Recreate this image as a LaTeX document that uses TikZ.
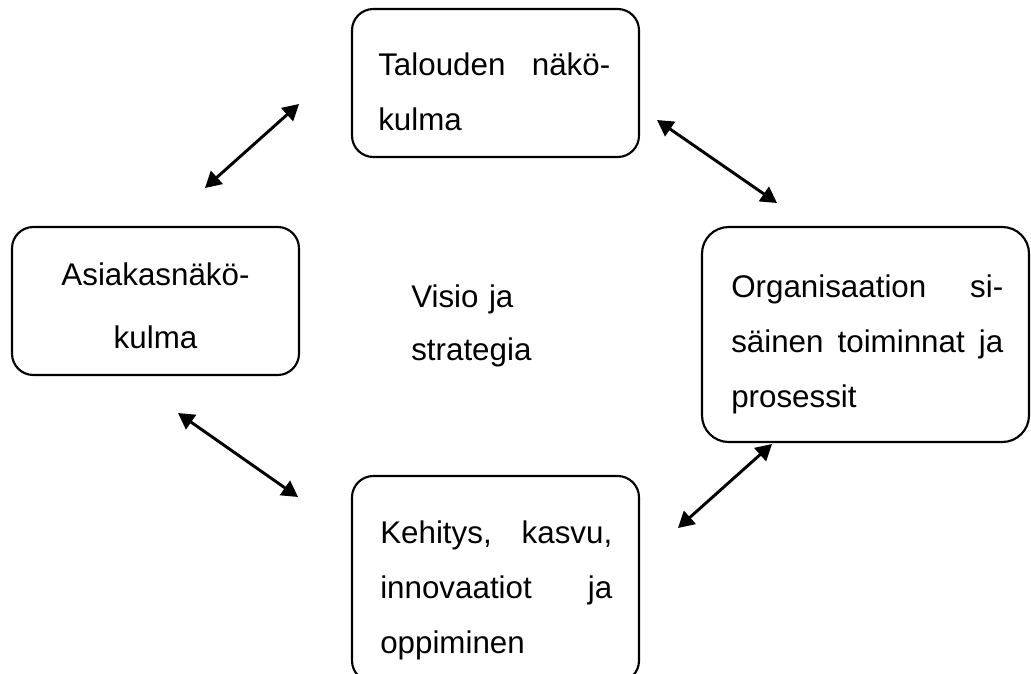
\documentclass[tikz,border=0pt]{standalone}
\usepackage{fontspec}
\setmainfont{Liberation Sans}
\usetikzlibrary{arrows.meta,fit}

\tikzset{
  box/.style={draw, line width=1.6pt, rounded corners=16pt, inner sep=0pt},
  bigbox/.style={box, rounded corners=20pt},
  txt/.style={inner sep=0pt, align=left, anchor=base west},
  biarrow/.style={line width=2.2pt, {Triangle[length=12pt,width=13pt]}-{Triangle[length=12pt,width=13pt]}}
}

\begin{document}
\begin{tikzpicture}[x=0.75pt, y=-0.75pt]
  \useasboundingbox (0,0) rectangle (1031,674);

  % perspective boxes
  \node[box, fit={(352,9) (639,157)}] (talous) {};
  \node[box, fit={(12,227) (299,375)}] (asiakas) {};
  \node[bigbox, fit={(702,227) (1029,442)}] (prosessit) {};
  \node[box, fit={(352,476) (639,682)}] (kehitys) {};

  % box texts
  \node[txt, text width=174pt, font=\fontsize{23.5}{41.25}\selectfont] (tTalous) at (378,75)
    {Talouden\hfill näkö-\\kulma};
  \node[txt, text width=180pt, align=center, anchor=base, font=\fontsize{23.5}{47.25}\selectfont] (tAsiakas) at (155.5,285)
    {Asiakasnäkö-\\kulma};
  \node[txt, text width=204pt, font=\fontsize{23.5}{41.25}\selectfont] (tProsessit) at (731,297)
    {Organisaation\hfill si-\\säinen\hfill toiminnat\hfill ja\\prosessit};
  \node[txt, text width=174pt, font=\fontsize{23.5}{41.25}\selectfont] (tKehitys) at (380,543)
    {Kehitys,\hfill kasvu,\\innovaatiot\hfill ja\\oppiminen};

  % centre text
  \node[txt, text width=150pt, font=\fontsize{23.5}{39.75}\selectfont] (visio) at (411,307)
    {Visio ja\\strategia};

  % arrow end points
  \coordinate (a1s) at (205,188);
  \coordinate (a1e) at (299,104);
  \coordinate (a2s) at (657,120);
  \coordinate (a2e) at (777,203);
  \coordinate (a3s) at (178,413);
  \coordinate (a3e) at (298,497);
  \coordinate (a4s) at (678,528);
  \coordinate (a4e) at (772,444);

  % two-way links between the perspectives
  \draw[biarrow] (a1s) -- (a1e);
  \draw[biarrow] (a2s) -- (a2e);
  \draw[biarrow] (a3s) -- (a3e);
  \draw[biarrow] (a4s) -- (a4e);
\end{tikzpicture}
\end{document}
